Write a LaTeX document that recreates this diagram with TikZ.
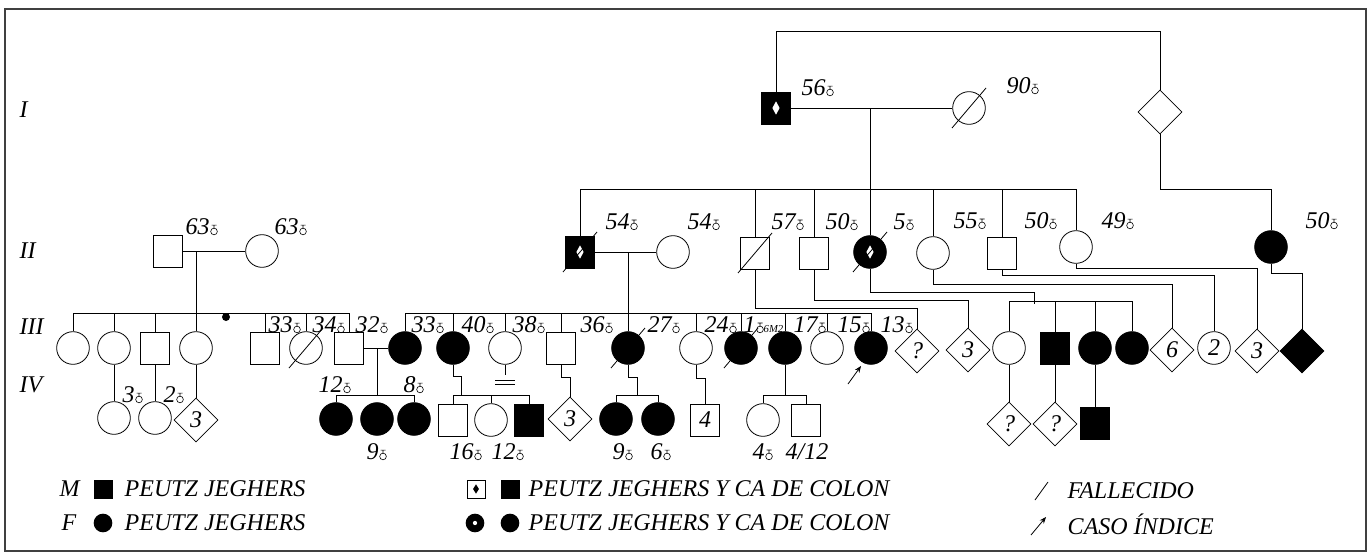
\documentclass[tikz,border=0pt]{standalone}
\usepackage{fontspec}
\setmainfont{Liberation Serif}
\usetikzlibrary{shapes.geometric,arrows.meta}
% age sign
\newcommand{\ao}{\hspace{0.6pt}\tikz[baseline=0pt]{\draw[line width=0.45pt] (0pt,2.5pt) circle[radius=2.5pt] (0pt,5pt) -- (0pt,7.3pt) (-1.9pt,7.3pt) -- (1.9pt,7.3pt);}}
% deceased slash
\newcommand{\dead}[1]{\draw ([shift={(-17,20)}]#1.center) -- ([shift={(17,-20)}]#1.center);}
\begin{document}
\begin{tikzpicture}[x=0.75pt,y=-0.75pt,line width=0.6pt,
  every node/.style={font=\itshape\fontsize{18}{21}\selectfont},
  ml/.style={draw,rectangle,minimum width=22pt,minimum height=24pt,inner sep=0pt},
  fm/.style={draw,circle,minimum size=24.5pt,inner sep=0pt},
  un/.style={draw,diamond,minimum size=33pt,inner sep=0pt},
  af/.style={fill=black},
  ca/.style={path picture={\fill[white] ([yshift=5pt]path picture bounding box.center) -- ([xshift=2.7pt]path picture bounding box.center) -- ([yshift=-5pt]path picture bounding box.center) -- ([xshift=-2.7pt]path picture bounding box.center) -- cycle;}},
  lab/.style={anchor=west,inner sep=1pt}]
\useasboundingbox (0,0) rectangle (1368,554);
\draw[line width=1pt,black!75] (5,9) rectangle (1366,551);
% generations
\node[lab] (gI) at (18,110) {I};
\node[lab] (gII) at (18,251) {II};
\node[lab] (gIII) at (18,327) {III};
\node[lab] (gIV) at (18,385) {IV};
\coordinate (s1) at (0,189);
\coordinate (s2) at (0,313);
\coordinate (s3) at (0,395);
\coordinate (s4) at (0,301);
% I
\node[ml,af,ca] (I1) at (776,108) {};
\node[fm] (I2) at (969,108) {}; \dead{I2}
\node[un] (I3) at (1160,112) {};
\node[lab] (tI1) at (800,88) {56\ao};
\node[lab] (tI2) at (1005,86) {90\ao};
\draw (I1.north) -- ++(0,-60) -| (I3.north);
\draw (I1.east) -- (I2.west);
\coordinate (m1) at (870,108);
\draw (m1) -- (m1 |- s1);
% II
\node[ml,af,ca] (II1) at (580,252) {}; \dead{II1}
\node[fm] (II2) at (673,252) {};
\node[ml] (II3) at (755,253) {}; \dead{II3}
\node[ml] (II4) at (814,253) {};
\node[fm,af,ca] (II5) at (870,252) {}; \dead{II5}
\node[fm] (II6) at (933,253) {};
\node[ml] (II7) at (1002,253) {};
\node[fm] (II8) at (1076,247) {};
\node[fm,af] (II9) at (1271,247) {};
\node[lab] (tII1) at (604,222) {54\ao};
\node[lab] (tII2) at (686,222) {54\ao};
\node[lab] (tII3) at (770,222) {57\ao};
\node[lab] (tII4) at (824,222) {50\ao};
\node[lab] (tII5) at (892,222) {5\ao};
\node[lab] (tII6) at (952,221) {55\ao};
\node[lab] (tII7) at (1023,221) {50\ao};
\node[lab] (tII8) at (1100,221) {49\ao};
\node[lab] (tII9) at (1304,221) {50\ao};
\draw (II1.north) -- (II1.north |- s1) -- (II8.north |- s1) -- (II8.north);
\foreach \n in {II3,II4,II5,II6,II7} \draw (\n.north) -- (\n.north |- s1);
\draw (I3.south) -- (I3.south |- s1) -| (II9.north);
\draw (II1.east) -- (II2.west);
\coordinate (m2) at (628,252);
\draw (m2) -- (m2 |- s2);
\node[ml] (L1) at (168,251) {};
\node[fm] (L2) at (262,251) {};
\node[lab] (tL1) at (184,227) {63\ao};
\node[lab] (tL2) at (273,227) {63\ao};
\draw (L1.east) -- (L2.west);
\coordinate (m3) at (196,251);
\draw (m3) -- (m3 |- s2);
% III left
\node[fm] (a1) at (73,348) {};
\node[fm] (a2) at (114,348) {};
\node[ml] (a3) at (155,348) {};
\node[fm] (a4) at (196,348) {};
\node[ml] (a5) at (265,348) {};
\node[fm] (a6) at (306,348) {}; \dead{a6}
\node[ml] (a7) at (349,348) {};
\node[circle,fill=black,minimum size=6pt,inner sep=0pt] (dot) at (226,317) {};
\node[lab] (ta5) at (267,325) {33\ao};
\node[lab] (ta6) at (311,325) {34\ao};
\node[lab] (ta7) at (354,325) {32\ao};
\draw (a1.north) -- (a1.north |- s2) -- (a7.north |- s2) -- (a7.north);
\foreach \n in {a2,a3,a4,a5,a6} \draw (\n.north) -- (\n.north |- s2);
% III middle
\node[fm,af] (b1) at (405,348) {};
\node[fm,af] (b2) at (453,348) {};
\node[fm] (b3) at (505,348) {};
\node[ml] (b4) at (561,348) {};
\node[fm,af] (b5) at (628,348) {}; \dead{b5}
\node[fm] (b6) at (696,348) {};
\node[fm,af] (b7) at (741,348) {}; \dead{b7}
\node[fm,af] (b8) at (785,348) {};
\node[fm] (b9) at (827,348) {};
\node[fm,af] (b10) at (871,348) {};
\node[lab] (tb1) at (410,325) {33\ao};
\node[lab] (tb2) at (460,325) {40\ao};
\node[lab] (tb3) at (511,325) {38\ao};
\node[lab] (tb4) at (579,325) {36\ao};
\node[lab] (tb5) at (646,325) {27\ao};
\node[lab] (tb6) at (703,325) {24\ao};
\node[lab] (tb7) at (742,325) {1\ao{\fontsize{8}{8}\selectfont 6M2}};
\node[lab] (tb8) at (792,325) {17\ao};
\node[lab] (tb9) at (836,325) {15\ao};
\node[lab] (tb10) at (879,325) {13\ao};
\draw (b1.north) -- (b1.north |- s2) -- (b10.north |- s2) -- (b10.north);
\foreach \n in {b2,b3,b4,b5,b6,b7,b8,b9} \draw (\n.north) -- (\n.north |- s2);
\draw[-{Stealth[length=5pt,width=4pt]}] ([shift={(-23,36)}]b10.center) -- ([shift={(-10,18)}]b10.center);
\draw (a7.east) -- (b1.west);
% III right
\node[un] (e1) at (917,351) {?};
\node[un] (e2) at (968,350) {3};
\node[fm] (e3) at (1009,348) {};
\node[ml,af] (e4) at (1055,348) {};
\node[fm,af] (e5) at (1095,348) {};
\node[fm,af] (e6) at (1132,348) {};
\node[un] (e7) at (1172,350) {6};
\node[fm] (e8) at (1214,348) {2};
\node[un] (e9) at (1257,351) {3};
\node[un,af] (e10) at (1302,351) {};
\draw (II3.south) -- ++(0,39) -| (e1.north);
\draw (II4.south) -- ++(0,31) -| (e2.north);
\coordinate (j6) at (1034,304);
\draw (II5.south) -- ++(0,24) -| (j6);
\draw (II6.south) -- ++(0,15) -| (e7.north);
\draw (II7.south) -- ++(0,6) -| (e8.north);
\draw (II8.south) -- ++(0,5) -| (e9.north);
\draw (II9.south) -- ++(0,10) -| (e10.north);
\draw (e3.north) -- (e3.north |- s4) -- (e6.north |- s4) -- (e6.north);
\foreach \n in {e4,e5} \draw (\n.north) -- (\n.north |- s4);
% IV
\node[fm] (d1) at (114,418) {};
\node[fm] (d2) at (155,418) {};
\node[un] (d3) at (196,420) {3};
\node[lab] (td1) at (121,395) {3\ao};
\node[lab] (td2) at (162,395) {2\ao};
\draw (a2.south) -- (d1.north);
\draw (a3.south) -- (d2.north);
\draw (a4.south) -- (d3.north);
\node[fm,af] (c1) at (336,419) {};
\node[fm,af] (c2) at (377,419) {};
\node[fm,af] (c3) at (414,419) {};
\node[lab] (tc1) at (317,385) {12\ao};
\node[lab] (tc3) at (402,385) {8\ao};
\node[lab] (tc2) at (365,452) {9\ao};
\coordinate (m4) at (377,348);
\draw (m4) -- (m4 |- s3);
\draw (c1.north) -- (c1.north |- s3) -- (c3.north |- s3) -- (c3.north);
\node[ml] (g1) at (453,420) {};
\node[fm] (g2) at (491,420) {};
\node[ml,af] (g3) at (529,420) {};
\node[lab] (tg1) at (448,452) {16\ao};
\node[lab] (tg3) at (490,452) {12\ao};
\coordinate (j2) at (461,395);
\draw (b2.south) -- ++(0,12) -| (j2);
\draw (g1.north) -- (g1.north |- s3) -- (g3.north |- s3) -- (g3.north);
\draw (g2.north) -- (g2.north |- s3);
\draw (b3.south) -- ++(0,10);
\draw ([shift={(-10,32)}]b3.center) -- ++(20,0) ([shift={(-10,36)}]b3.center) -- ++(20,0);
\node[un] (h1) at (570,419) {3};
\draw (b4.south) -- ++(0,13) -| (h1.north);
\node[fm,af] (i1) at (616,419) {};
\node[fm,af] (i2) at (658,419) {};
\node[lab] (ti1) at (611,452) {9\ao};
\node[lab] (ti2) at (649,452) {6\ao};
\coordinate (j5) at (637,395);
\draw (b5.south) -- ++(0,13) -| (j5);
\draw (i1.north) -- (i1.north |- s3) -- (i2.north |- s3) -- (i2.north);
\node[ml] (j1) at (705,420) {4};
\draw (b6.south) -- ++(0,14) -| (j1.north);
\node[fm] (k1) at (763,420) {};
\node[ml] (k2) at (806,420) {};
\node[lab] (tk1) at (751,452) {4\ao};
\node[lab] (tk2) at (784,452) {4/12};
\draw (b8.south) -- (b8.south |- s3);
\draw (k1.north) -- (k1.north |- s3) -- (k2.north |- s3) -- (k2.north);
\node[un] (f1) at (1009,424) {?};
\node[un] (f2) at (1055,424) {?};
\node[ml,af] (f3) at (1095,423) {};
\draw (e3.south) -- (f1.north);
\draw (e4.south) -- (f2.north);
\draw (e5.south) -- (f3.north);
% legend
\node[lab] (lgM) at (58,489) {M};
\node[draw,fill=black,minimum size=13.5pt,inner sep=0pt] (lq1) at (103,489) {};
\node[lab] (lt1) at (123,489) {PEUTZ JEGHERS};
\node[lab] (lgF) at (60,523) {F};
\node[circle,fill=black,minimum size=14pt,inner sep=0pt] (lc1) at (103,523) {};
\node[lab] (lt2) at (123,523) {PEUTZ JEGHERS};
\node[draw,minimum size=13.5pt,inner sep=0pt,path picture={\fill ([yshift=3.5pt]path picture bounding box.center) -- ([xshift=2.2pt]path picture bounding box.center) -- ([yshift=-3.5pt]path picture bounding box.center) -- ([xshift=-2.2pt]path picture bounding box.center) -- cycle;}] (lq2) at (476,489) {};
\node[draw,fill=black,minimum size=13.5pt,inner sep=0pt] (lq3) at (510,489) {};
\node[lab] (lt3) at (527,489) {PEUTZ JEGHERS Y CA DE COLON};
\node[circle,fill=black,minimum size=14pt,inner sep=0pt,path picture={\fill[white] (path picture bounding box.center) circle[radius=1.6pt];}] (lc2) at (475,523) {};
\node[circle,fill=black,minimum size=14pt,inner sep=0pt] (lc3) at (510,523) {};
\node[lab] (lt4) at (527,523) {PEUTZ JEGHERS Y CA DE COLON};
\draw (1035,500) -- (1048,482);
\node[lab] (lt5) at (1066,491) {FALLECIDO};
\draw[-{Stealth[length=5pt,width=4pt]}] (1031,535) -- (1046,517);
\node[lab] (lt6) at (1066,524) {CASO ÍNDICE};
\end{tikzpicture}
\end{document}
